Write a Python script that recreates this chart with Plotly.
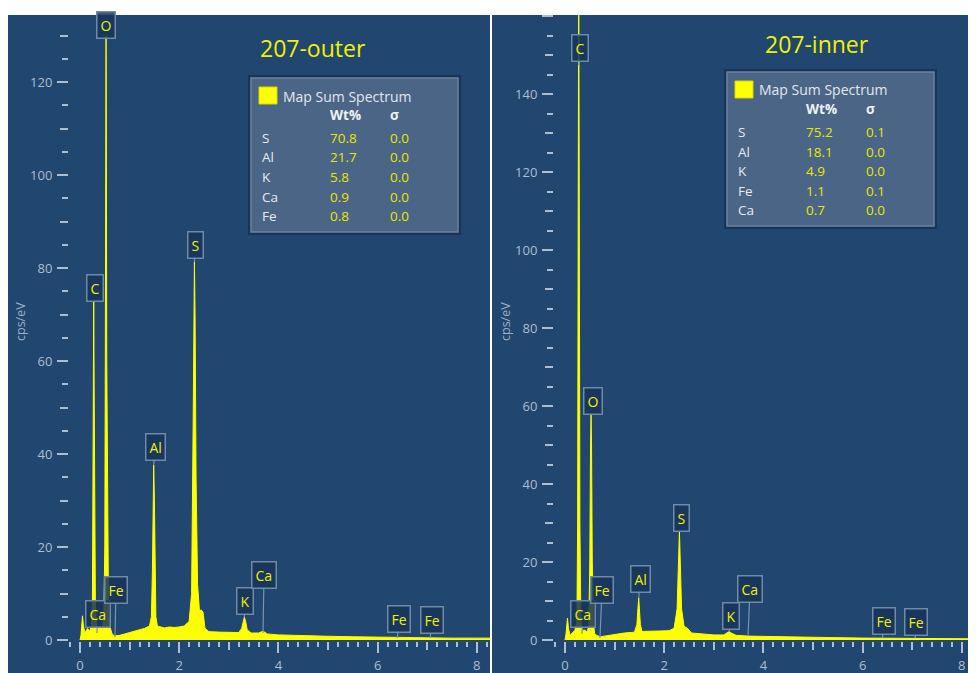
import plotly.graph_objects as go

# The page body has an 8 px margin, so the figure is drawn 8 px in from the top-left.
OFF = 8
W, H = 976 - OFF, 673 - OFF

# ---------------- data ----------------
left_energy = [0.00, 0.02, 0.05, 0.07, 0.10, 0.15, 0.20, 0.23, 0.25, 0.26, 0.27, 0.277, 0.285, 0.295, 0.31,
               0.33, 0.36, 0.40, 0.45, 0.48, 0.50, 0.51, 0.52, 0.525, 0.53, 0.54, 0.555, 0.575, 0.60, 0.65,
               0.70, 0.80, 0.90, 1.00, 1.10, 1.20, 1.30, 1.40, 1.44, 1.46, 1.475, 1.486, 1.50, 1.515, 1.53,
               1.56, 1.70, 1.80, 1.90, 2.00, 2.10, 2.20, 2.25, 2.28, 2.30, 2.307, 2.32, 2.34, 2.37, 2.41,
               2.44, 2.48, 2.52, 2.60, 2.80, 3.00, 3.20, 3.26, 3.29, 3.313, 3.34, 3.37, 3.45, 3.60, 3.69,
               3.78, 4.00, 4.50, 5.00, 5.50, 6.00, 6.40, 7.00, 7.50, 8.00, 8.30]
left_cps = [0.0, 1.0, 5.2, 3.0, 1.5, 2.5, 2.0, 3.0, 8, 25, 55, 73, 55, 25, 8,
            3.5, 2.5, 3.0, 2.5, 5, 20, 60, 115, 130, 115, 60, 20, 6, 3, 1.2,
            0.9, 1.0, 1.3, 1.6, 1.9, 2.3, 2.5, 3.0, 5, 15, 30, 37.6, 30, 15, 5,
            3, 2.6, 2.8, 2.7, 2.8, 3.0, 4.0, 10, 45, 78, 81.3, 70, 35, 12, 6,
            6.5, 6, 2.5, 1.8, 1.7, 1.6, 1.6, 2.5, 4.0, 4.9, 4.0, 2.2, 1.5, 1.5, 1.9,
            1.3, 1.1, 0.9, 0.8, 0.7, 0.6, 0.6, 0.5, 0.4, 0.4, 0.4]

right_energy = [0.00, 0.02, 0.05, 0.07, 0.10, 0.15, 0.20, 0.24, 0.255, 0.265, 0.277, 0.29, 0.30, 0.32,
                0.35, 0.40, 0.45, 0.48, 0.50, 0.515, 0.525, 0.535, 0.55, 0.575, 0.60, 0.70, 0.80, 1.00,
                1.20, 1.40, 1.45, 1.47, 1.486, 1.50, 1.52, 1.55, 1.70, 1.90, 2.10, 2.20, 2.26, 2.29,
                2.307, 2.32, 2.35, 2.40, 2.47, 2.55, 2.80, 3.00, 3.20, 3.28, 3.313, 3.35, 3.45, 3.69,
                4.00, 5.00, 6.00, 7.00, 8.00, 8.30]
right_cps = [0.0, 1.5, 5.6, 3.0, 1.2, 1.8, 2.5, 5, 30, 100, 175, 100, 30, 5,
             2.5, 2.5, 2.0, 4, 20, 50, 57.7, 50, 20, 4, 1.5, 0.8, 1.0, 1.5,
             1.8, 2.0, 4, 8, 10.8, 8, 4, 2.2, 2.2, 2.3, 2.4, 3, 8, 22,
             27.9, 22, 8, 3.5, 3, 1.8, 1.5, 1.3, 1.3, 1.8, 2.2, 1.8, 1.2, 1.0,
             0.9, 0.7, 0.5, 0.4, 0.3, 0.3]

peak_labels = ["O", "C", "Ca", "Fe", "Al", "S", "K", "Ca", "Fe", "Fe"]
peak_energy = [0.525, 0.277, 0.341, 0.705, 1.486, 2.307, 3.313, 3.69, 6.40, 7.06]
right_peak_labels = ["C", "O", "Ca", "Fe", "Al", "S", "K", "Ca", "Fe", "Fe"]
right_peak_energy = [0.277, 0.525, 0.341, 0.705, 1.486, 2.307, 3.313, 3.69, 6.40, 7.06]

left_title = "207-outer"
right_title = "207-inner"
table_title = "Map Sum Spectrum"
left_elements = ["S", "Al", "K", "Ca", "Fe"]
left_wt = ["70.8", "21.7", "5.8", "0.9", "0.8"]
left_sigma = ["0.0", "0.0", "0.0", "0.0", "0.0"]
right_elements = ["S", "Al", "K", "Fe", "Ca"]
right_wt = ["75.2", "18.1", "4.9", "1.1", "0.7"]
right_sigma = ["0.1", "0.0", "0.0", "0.1", "0.0"]

# ---------------- layout helpers (arguments are page pixels) ----------------
def px(x):
    return (x - OFF) / W

def py(y):
    return 1 - (y - OFF) / H

PANEL = "#214670"
TICKC = "#aebdcf"
YEL = "#ffff00"
FONT = "Open Sans"

# pixel geometry of each panel
L = dict(x0=80, kx=49.6, y0=640, ky=93 / 20, left=69, right=490)
R = dict(x0=565, kx=49.6, y0=640, ky=78 / 20, left=554, right=976)

def xr(g):
    return [(g["left"] - g["x0"]) / g["kx"], (g["right"] - g["x0"]) / g["kx"]]

def yr(g):
    return [-(641 - g["y0"]) / g["ky"], (g["y0"] - 15) / g["ky"]]

def ex(g, xp):
    return (xp - g["x0"]) / g["kx"]

def vy(g, yp):
    return (g["y0"] - yp) / g["ky"]

fig = go.Figure()

fig.add_trace(go.Scatter(x=left_energy, y=left_cps, mode="lines", fill="tozeroy",
                         line=dict(color=YEL, width=1), fillcolor=YEL,
                         xaxis="x", yaxis="y", showlegend=False, hoverinfo="skip"))
fig.add_trace(go.Scatter(x=right_energy, y=right_cps, mode="lines", fill="tozeroy",
                         line=dict(color=YEL, width=1), fillcolor=YEL,
                         xaxis="x2", yaxis="y2", showlegend=False, hoverinfo="skip"))
# invisible traces to activate the medium-tick overlay axes
for xa, ya in (("x3", "y3"), ("x4", "y4")):
    fig.add_trace(go.Scatter(x=[0], y=[0], mode="markers", marker=dict(opacity=0),
                             xaxis=xa, yaxis=ya, showlegend=False, hoverinfo="skip"))

ydom = [py(641), py(15)]
ldom = [px(L["left"]), px(L["right"])]
rdom = [px(R["left"]), min(1.0, px(R["right"]))]

def xaxis_major(dom, rng, anchor):
    return dict(domain=dom, range=rng, anchor=anchor, showgrid=False, zeroline=False,
                showline=False, ticks="outside", ticklen=11, tickwidth=2, tickcolor=TICKC,
                tickvals=[0, 2, 4, 6, 8], tickfont=dict(family=FONT, size=13, color=TICKC),
                ticklabelstandoff=1, automargin=False,
                minor=dict(dtick=0.2, tick0=0, ticks="outside", ticklen=5, tickwidth=2,
                           tickcolor=TICKC, showgrid=False))

def yaxis_major(dom, rng, anchor, vals):
    return dict(domain=dom, range=rng, anchor=anchor, showgrid=False, zeroline=False,
                showline=False, ticks="outside", ticklen=11, tickwidth=2, tickcolor=TICKC,
                tickvals=vals, tickfont=dict(family=FONT, size=13, color=TICKC),
                ticklabelstandoff=2, automargin=False,
                minor=dict(dtick=5, tick0=0, ticks="outside", ticklen=6, tickwidth=2,
                           tickcolor=TICKC, showgrid=False))

def med_x(dom, rng, anchor, over):
    return dict(domain=dom, range=rng, anchor=anchor, overlaying=over, side="bottom",
                showgrid=False, zeroline=False, showline=False, ticks="outside", ticklen=8,
                tickwidth=2, tickcolor=TICKC, tickvals=[1, 3, 5, 7], showticklabels=False,
                automargin=False)

def med_y(dom, rng, anchor, over, vals):
    return dict(domain=dom, range=rng, anchor=anchor, overlaying=over, side="left",
                showgrid=False, zeroline=False, showline=False, ticks="outside", ticklen=8,
                tickwidth=2, tickcolor=TICKC, tickvals=vals, showticklabels=False,
                automargin=False)

fig.update_layout(
    width=W, height=H, margin=dict(l=0, r=0, t=0, b=0, autoexpand=False),
    paper_bgcolor="white", plot_bgcolor="rgba(0,0,0,0)",
    xaxis=xaxis_major(ldom, xr(L), "y"),
    yaxis=yaxis_major(ydom, yr(L), "x", [0, 20, 40, 60, 80, 100, 120]),
    xaxis2=xaxis_major(rdom, xr(R), "y2"),
    yaxis2=yaxis_major(ydom, yr(R), "x2", [0, 20, 40, 60, 80, 100, 120, 140, 160]),
    xaxis3=med_x(ldom, xr(L), "y3", "x"),
    yaxis3=med_y(ydom, yr(L), "x3", "y", [10, 30, 50, 70, 90, 110, 130]),
    xaxis4=med_x(rdom, xr(R), "y4", "x2"),
    yaxis4=med_y(ydom, yr(R), "x4", "y2", [10, 30, 50, 70, 90, 110, 130, 150]),
)

shapes = [
    dict(type="rect", xref="paper", yref="paper", x0=px(8), x1=px(490), y0=0, y1=py(15),
         fillcolor=PANEL, line=dict(width=0), layer="below"),
    dict(type="rect", xref="paper", yref="paper", x0=px(492), x1=1, y0=0, y1=py(15),
         fillcolor=PANEL, line=dict(width=0), layer="below"),
]

annotations = []

# peak label boxes: (box centre x px, box centre y px, pointer end y px)
left_boxes = [(106, 25, 37), (95, 288, 300), (98, 614, 633), (116, 590, 637), (155, 447, 465),
              (195, 245, 262), (245, 601, 617), (264, 575, 633), (399, 619, 638), (432, 620, 638)]
right_boxes = [(580, 48, 65), (593, 401, 415), (583, 614, 634), (602, 590, 638), (640, 579, 598),
               (681, 518, 531), (731, 616, 632), (750, 589, 636), (884, 621, 638), (916, 622, 638)]

def add_labels(g, labels, energies, boxes, xa, ya):
    for lab, e, (bx, by, ty) in zip(labels, energies, boxes):
        annotations.append(dict(
            x=e, y=vy(g, ty), xref=xa, yref=ya, ax=ex(g, bx), ay=vy(g, by), axref=xa, ayref=ya,
            text=lab, showarrow=True, arrowhead=0, arrowwidth=1.2, arrowcolor="#7a93b0",
            standoff=0, startstandoff=0,
            font=dict(family=FONT, size=14, color="#f2f200"),
            bgcolor="rgba(24,52,88,0.85)", bordercolor="#6f89a8", borderwidth=1.5, borderpad=3))

add_labels(L, peak_labels, peak_energy, left_boxes, "x", "y")
add_labels(R, right_peak_labels, right_peak_energy, right_boxes, "x2", "y2")

# titles
for t, cx, cy in ((left_title, 313, 48), (right_title, 817, 44)):
    annotations.append(dict(x=px(cx), y=py(cy), xref="paper", yref="paper", text=t,
                            xanchor="center", yanchor="middle",
                            showarrow=False, font=dict(family=FONT, size=23, color="#f2f200")))

# y axis titles
for cx in (20, 505):
    annotations.append(dict(x=px(cx), y=py(322), xref="paper", yref="paper", text="cps/eV",
                            textangle=-90, showarrow=False, xanchor="center", yanchor="middle",
                            font=dict(family=FONT, size=12.5, color="#9fb0c4")))

# result tables
def add_table(bx0, by0, elements, wt, sigma):
    bx1, by1 = bx0 + 207, by0 + 154
    shapes.append(dict(type="rect", xref="paper", yref="paper", x0=px(bx0 - 3), x1=px(bx1 + 3),
                       y0=py(by1 + 3), y1=py(by0 - 3), fillcolor="rgba(20,40,70,0.6)",
                       line=dict(width=0)))
    shapes.append(dict(type="rect", xref="paper", yref="paper", x0=px(bx0), x1=px(bx1),
                       y0=py(by1), y1=py(by0), fillcolor="#4b6586",
                       line=dict(color="#6a84a3", width=1.5)))
    shapes.append(dict(type="rect", xref="paper", yref="paper", x0=px(bx0 + 8), x1=px(bx0 + 26),
                       y0=py(by0 + 26), y1=py(by0 + 9), fillcolor=YEL,
                       line=dict(color="#d8d800", width=1)))
    def txt(x, y, s, color, bold=False, size=13.5):
        annotations.append(dict(x=px(x), y=py(y), xref="paper", yref="paper", xanchor="left",
                                yanchor="middle", text=f"<b>{s}</b>" if bold else s,
                                showarrow=False, font=dict(family=FONT, size=size, color=color)))
    txt(bx0 + 30, by0 + 18, table_title, "#e2e8f0", size=14)
    txt(bx0 + 77, by0 + 37, "Wt%", "#eef2f6", bold=True)
    txt(bx0 + 137, by0 + 37, "σ", "#eef2f6", bold=True)
    for i, (el, w, s) in enumerate(zip(elements, wt, sigma)):
        yy = by0 + 60 + i * 19.5
        txt(bx0 + 9, yy, el, "#e6ebf1")
        txt(bx0 + 77, yy, w, "#e8e800")
        txt(bx0 + 137, yy, s, "#e8e800")

add_table(251, 78, left_elements, left_wt, left_sigma)
add_table(727, 72, right_elements, right_wt, right_sigma)

fig.update_layout(shapes=shapes, annotations=annotations)
fig.write_html("out.html")
